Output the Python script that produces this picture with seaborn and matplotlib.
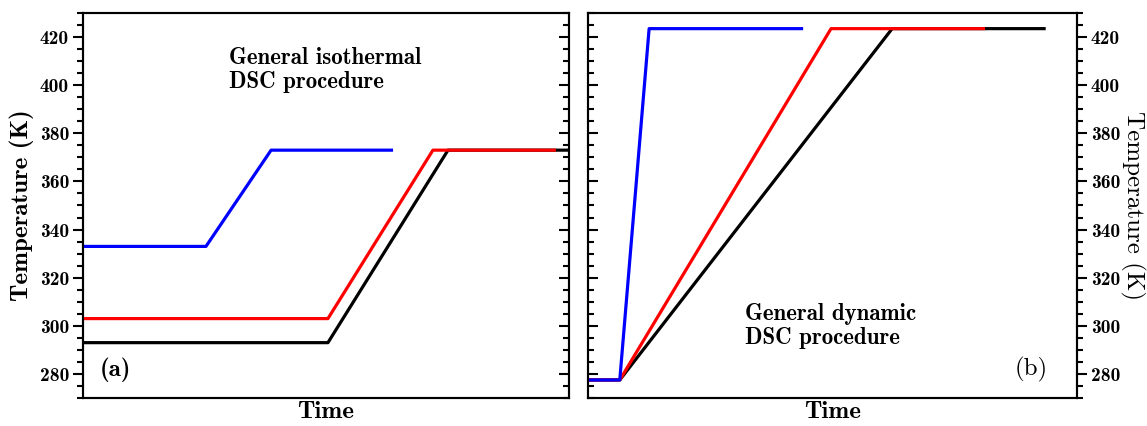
import numpy as np
import pandas as pd
import matplotlib
matplotlib.use("Agg")
import matplotlib.pyplot as plt
import seaborn as sns
from matplotlib.ticker import MultipleLocator

# ---- data (time in arbitrary units, temperature in K) ----
iso_blue_t = [0, 25.3, 38.7, 63.8]
iso_blue_T = [333, 333, 373, 373]
iso_red_t = [0, 50.4, 72.0, 97.3]
iso_red_T = [303, 303, 373, 373]
iso_black_t = [0, 50.4, 75.1, 101]
iso_black_T = [293, 293, 373, 373]

dyn_blue_t = [0, 6.5, 12.5, 44.0]
dyn_blue_T = [277.5, 277.5, 423.5, 423.5]
dyn_red_t = [0, 6.5, 49.7, 81.2]
dyn_red_T = [277.5, 277.5, 423.5, 423.5]
dyn_black_t = [0, 6.5, 62.2, 93.6]
dyn_black_T = [277.5, 277.5, 423.5, 423.5]

sns.set_style("ticks")
plt.rcParams["font.family"] = ["cmb10", "DejaVu Serif"]
plt.rcParams["axes.unicode_minus"] = False
plt.rcParams["axes.formatter.use_mathtext"] = False
for k in ["text.color", "axes.labelcolor", "xtick.color", "ytick.color", "axes.edgecolor"]:
    plt.rcParams[k] = "black"

fig = plt.figure(figsize=(11.47, 4.26), dpi=100)
axL = fig.add_axes([83/1147, 28/426, 486/1147, 385/426])
axR = fig.add_axes([588/1147, 28/426, 489/1147, 385/426])

lw = 2.3
def draw(ax, series):
    for t, T, c, z in series:
        df = pd.DataFrame({"t": t, "T": T})
        sns.lineplot(data=df, x="t", y="T", color=c, lw=lw, ax=ax,
                     estimator=None, sort=False, zorder=z, solid_capstyle="butt")

draw(axL, [(iso_black_t, iso_black_T, "black", 2),
           (iso_red_t, iso_red_T, "#ff0000", 3),
           (iso_blue_t, iso_blue_T, "#0000ff", 4)])
draw(axR, [(dyn_black_t, dyn_black_T, "black", 2),
           (dyn_red_t, dyn_red_T, "#ff0000", 3),
           (dyn_blue_t, dyn_blue_T, "#0000ff", 4)])

twL = axL.twinx()
twR = axR.twinx()

def style_y(ax, side, direction, labels):
    ax.set_ylim(270, 430)
    ax.yaxis.set_major_locator(MultipleLocator(20))
    ax.yaxis.set_minor_locator(MultipleLocator(5))
    if side == "left":
        ax.yaxis.tick_left()
    else:
        ax.yaxis.tick_right()
    ax.tick_params(axis="y", which="both", direction=direction,
                   left=(side == "left"), right=(side == "right"),
                   labelleft=(labels and side == "left"),
                   labelright=(labels and side == "right"),
                   width=1.5, labelsize=14, pad=3)
    ax.tick_params(axis="y", which="major", length=7)
    ax.tick_params(axis="y", which="minor", length=4)
    for s in ax.spines.values():
        s.set_visible(True)
        s.set_linewidth(1.5)
        s.set_color("black")

style_y(twL, "right", "in", False)
style_y(axL, "left", "out", True)
style_y(twR, "left", "in", False)
style_y(axR, "right", "out", True)

for ax in (axL, axR):
    ax.set_xlim(0, 100)
    ax.set_xticks([])
    ax.set_xlabel("Time", fontsize=18, labelpad=2)

axL.set_ylabel("Temperature (K)", fontsize=18, labelpad=4)
axR.yaxis.set_label_position("right")
axR.set_ylabel("Temperature (K)", fontsize=18, rotation=270,
               va="center", ha="center", family=["cmr10", "DejaVu Serif"])
axR.yaxis.set_label_coords(1.113, 0.5)

axL.text(0.30, 0.912, "General isothermal\nDSC procedure", transform=axL.transAxes,
         fontsize=16.5, va="top", ha="left", linespacing=1.15)
axL.text(0.035, 0.042, "(a)", transform=axL.transAxes, fontsize=18, va="bottom", ha="left")
axR.text(0.321, 0.247, "General dynamic\nDSC procedure", transform=axR.transAxes,
         fontsize=16.5, va="top", ha="left", linespacing=1.15)
axR.text(0.94, 0.042, "(b)", transform=axR.transAxes, fontsize=18, va="bottom", ha="right",
         family=["cmr10", "DejaVu Serif"])

fig.savefig("out.png", dpi=100)
